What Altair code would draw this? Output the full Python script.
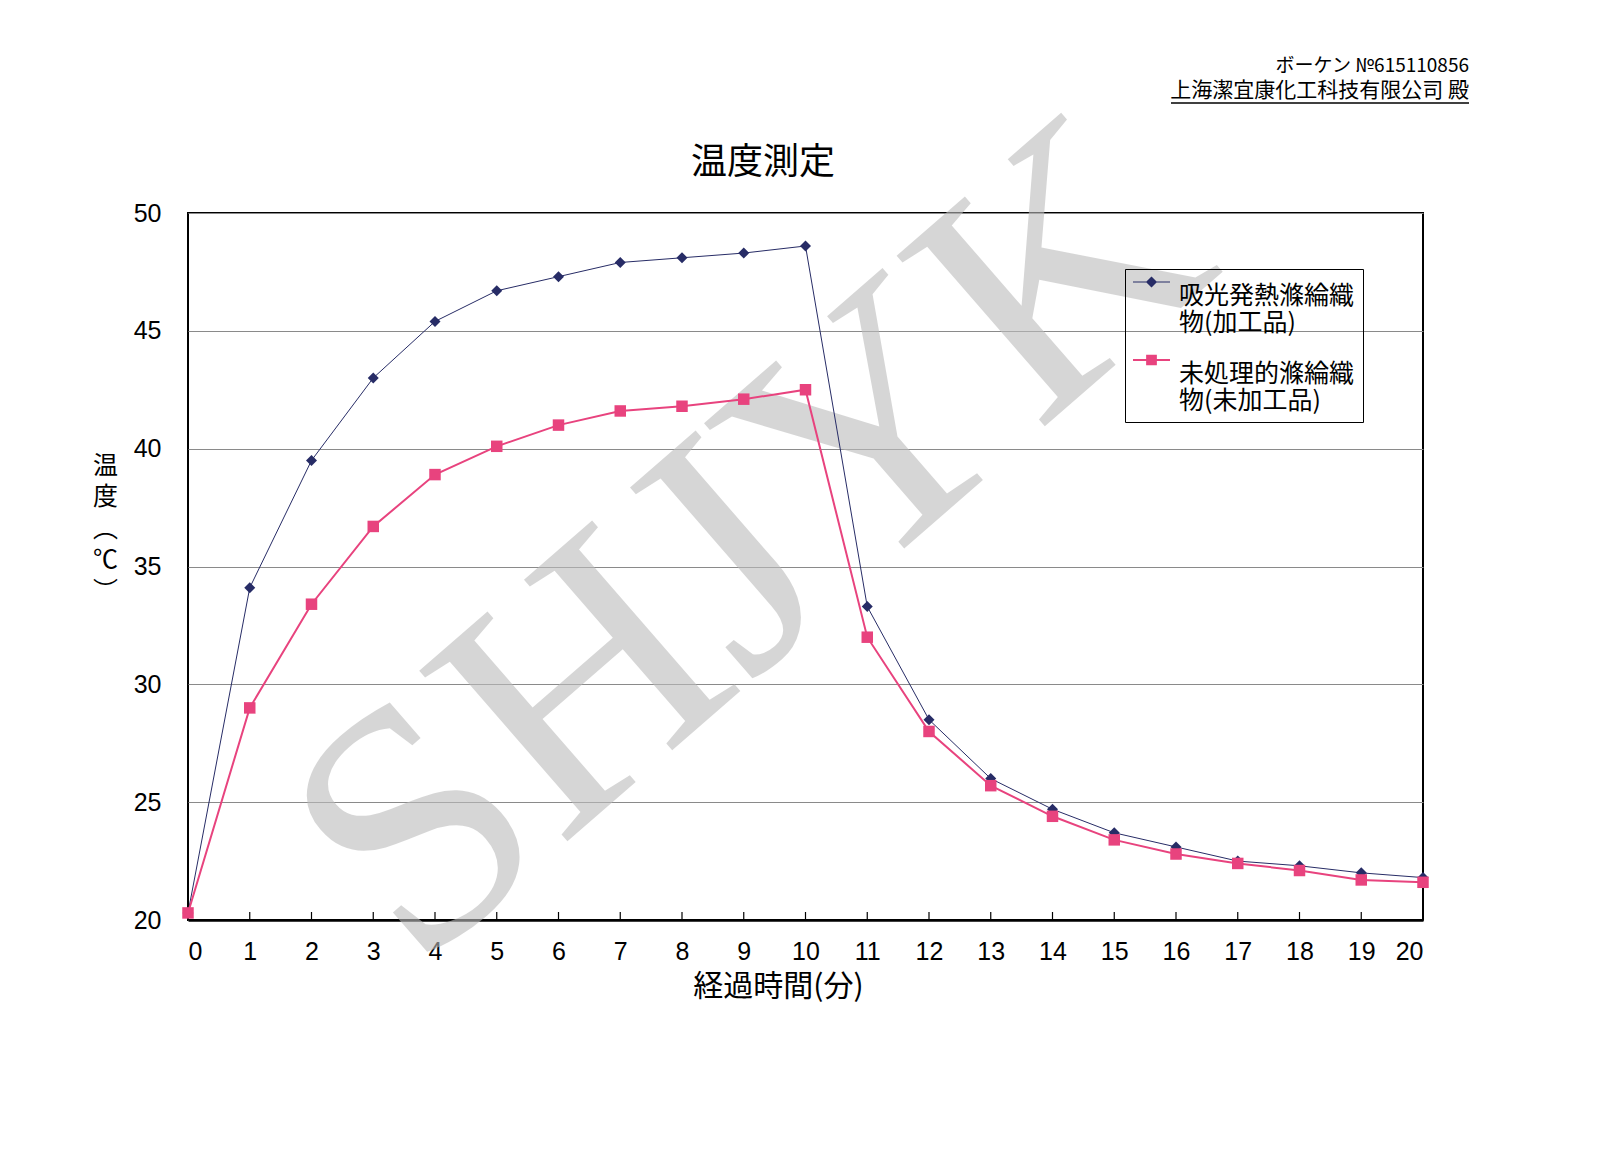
import altair as alt
import pandas as pd

# Elapsed time (minutes) and measured temperatures (°C)
minutes = list(range(21))
heated_fabric = [20.3, 34.1, 39.5, 43.0, 45.4, 46.7, 47.3, 47.9, 48.1, 48.3, 48.6,
                 33.3, 28.5, 26.0, 24.7, 23.7, 23.1, 22.5, 22.3, 22.0, 21.8]
plain_fabric = [20.3, 29.0, 33.4, 36.7, 38.9, 40.1, 41.0, 41.6, 41.8, 42.1, 42.5,
                32.0, 28.0, 25.7, 24.4, 23.4, 22.8, 22.4, 22.1, 21.7, 21.6]

series_names = ["吸光発熱滌綸織物(加工品)", "未処理的滌綸織物(未加工品)"]
series_colors = ["#272c66", "#e8437e"]
series_widths = [1, 2]
y_ticks = [20, 25, 30, 35, 40, 45, 50]

chart_title = "温度測定"
x_title = "経過時間(分)"
y_title = ["温", "度", "︵", "℃", "︶"]
header_lines = ["ボーケン №615110856", "上海潔宜康化工科技有限公司 殿"]
watermark = "SHJYK"

CJK = "Noto Sans CJK JP"
NUM = "Liberation Sans Narrow, Arial Narrow, Liberation Sans, sans-serif"

W, H = 1235, 707

df = pd.DataFrame({
    "minute": minutes * 2,
    "temp": heated_fabric + plain_fabric,
    "series": [series_names[0]] * len(minutes) + [series_names[1]] * len(minutes),
})
tick_df = pd.DataFrame({"minute": minutes})

x_enc = alt.X(
    "minute:Q",
    scale=alt.Scale(domain=[0, 20], nice=False),
    axis=alt.Axis(
        values=minutes, title=x_title, titleFont=CJK, titleFontSize=30,
        titleFontWeight="normal", titleColor="black", titleX=590, titleY=66,
        titleAlign="center", titleBaseline="middle",
        labelFont=NUM, labelFontSize=25, labelColor="black", labelPadding=19,
        ticks=False, grid=False, domain=True, domainColor="black", domainWidth=2.5,
    ),
)
y_enc = alt.Y(
    "temp:Q",
    scale=alt.Scale(domain=[20, 50], nice=False),
    axis=alt.Axis(
        values=y_ticks, title=y_title, titleFont=CJK, titleFontSize=25,
        titleFontWeight="normal", titleColor="black", titleAngle=0,
        titleX=-83, titleY=252, titleAlign="center", titleBaseline="middle",
        titleLineHeight=31.5,
        labelFont=NUM, labelFontSize=25, labelColor="black", labelPadding=27,
        ticks=False, domain=False, grid=True, gridColor="#8a8a8a", gridWidth=1,
    ),
)
color_scale = alt.Scale(domain=series_names, range=series_colors)

base = alt.Chart(df)

# Grey diagonal watermark across the plot, beneath the series
mark_layer = alt.Chart(pd.DataFrame({"label": [watermark]})).mark_text(
    font="Liberation Serif", fontSize=345, angle=319, color="#bcbcbc",
    opacity=0.6, align="center", baseline="middle",
).encode(text="label:N", x=alt.value(564), y=alt.value(330))

# Inward tick marks along the time axis
tick_layer = alt.Chart(tick_df).mark_rule(color="black", strokeWidth=1.2).encode(
    x=x_enc, y=alt.value(H), y2=alt.value(H - 8)
)

lines = base.mark_line().encode(
    x=x_enc, y=y_enc,
    color=alt.Color("series:N", scale=color_scale, legend=None),
    strokeWidth=alt.StrokeWidth(
        "series:N", scale=alt.Scale(domain=series_names, range=series_widths), legend=None
    ),
)

diamonds = base.transform_filter(alt.datum.series == series_names[0]).mark_point(
    shape="diamond", filled=True, size=121, opacity=1
).encode(x=x_enc, y=y_enc, color=alt.Color("series:N", scale=color_scale, legend=None))

squares = base.transform_filter(alt.datum.series == series_names[1]).mark_square(
    filled=True, size=132, opacity=1
).encode(x=x_enc, y=y_enc, color=alt.Color("series:N", scale=color_scale, legend=None))

# Legend keys: a short line segment with the series marker on it
key_paths = [
    "M-1,-0.757H1V-0.703H-1Z M0,-1.03L0.3,-0.73L0,-0.43L-0.3,-0.73Z",
    "M-1,-0.784H1V-0.676H-1Z M-0.29,-1.02H0.29V-0.44H-0.29Z",
]
legend_def = alt.Legend(
    orient="none", legendX=937, legendY=56, title=None,
    strokeColor="black", padding=8, cornerRadius=0,
    labelFont=CJK, labelFontSize=25, labelColor="black", labelLimit=400,
    labelOffset=9, rowPadding=18, symbolSize=1369, symbolStrokeWidth=0,
    symbolOpacity=1,
    labelExpr="[slice(datum.label, 0, 7), slice(datum.label, 7)]",
)
legend_layer = base.transform_filter("false").mark_point(filled=True, opacity=1).encode(
    color=alt.Color("series:N", scale=color_scale, legend=legend_def),
    shape=alt.Shape("series:N", scale=alt.Scale(domain=series_names, range=key_paths),
                    legend=legend_def),
)

title_layer = alt.Chart(pd.DataFrame({"t": [chart_title]})).mark_text(
    font=CJK, fontSize=36, color="black", align="center", baseline="middle"
).encode(text="t:N", x=alt.value(575), y=alt.value(-50))

header_top = alt.Chart(pd.DataFrame({"t": [header_lines[0]]})).mark_text(
    font=CJK, fontSize=19, color="black", align="right", baseline="middle"
).encode(text="t:N", x=alt.value(1281), y=alt.value(-147))
header_bottom = alt.Chart(pd.DataFrame({"t": [header_lines[1]]})).mark_text(
    font=CJK, fontSize=21, color="black", align="right", baseline="middle"
).encode(text="t:N", x=alt.value(1281), y=alt.value(-122))
header_rule = alt.Chart(pd.DataFrame({"t": [0]})).mark_rule(color="black", strokeWidth=1.5).encode(
    x=alt.value(983), x2=alt.value(1281), y=alt.value(-110)
)

chart = alt.layer(
    tick_layer, mark_layer, lines, diamonds, squares, legend_layer,
    title_layer, header_top, header_bottom, header_rule,
).resolve_scale(
    color="independent", shape="independent", strokeWidth="independent"
).properties(
    width=W, height=H,
    autosize=alt.AutoSizeParams(type="none"),
    padding={"left": 188, "top": 213, "right": 177, "bottom": 234},
    background="white",
).configure_view(stroke="black", strokeWidth=2)

chart.save("out.html", embed_options={"renderer": "svg", "actions": False})
